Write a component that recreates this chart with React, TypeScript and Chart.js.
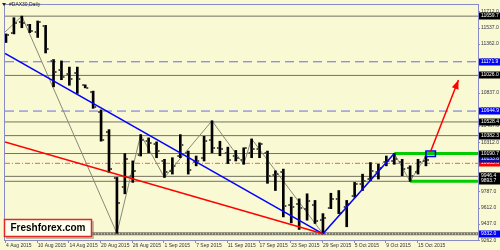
import React, { useEffect, useRef } from "react";
import { Chart, registerables } from "chart.js";

Chart.register(...registerables);

const symbolTitle = "#DAX30,Daily";
const watermark = "Freshforex.com";

// Daily OHLC, 4 Aug 2015 .. 16 Oct 2015 (index = trading day)
const opens = [11420, 11477, 11600, 11560, 11490, 11555, 11180, 11080, 11040, 11050, 10920, 10850, 10640, 10420, 9930, 9830, 9950, 10180, 10320, 10290, 10110, 10000, 10160, 10200, 10100, 10140, 10340, 10250, 10200, 10160, 10120, 10200, 10240, 10200, 9960, 9990, 9640, 9650, 9600, 9640, 9480, 9605, 9700, 9620, 9740, 9860, 9920, 9990, 10100, 10110, 10100, 10040, 9990, 10110];
const highs = [11470, 11643, 11660, 11572, 11608, 11561, 11196, 11181, 11115, 11115, 10925, 10858, 10657, 10446, 9935, 10190, 10112, 10393, 10358, 10315, 10129, 10146, 10393, 10217, 10164, 10375, 10541, 10322, 10259, 10224, 10252, 10347, 10305, 10217, 10006, 10024, 9724, 9706, 9760, 9689, 9548, 9766, 9795, 9689, 9882, 9970, 10094, 10076, 10164, 10190.7, 10129, 10059, 10129, 10164];
const lows = [11378, 11470, 11536, 11484, 11432, 11266, 10904, 10980, 10921, 10833, 10893, 10674, 10323, 9988, 9338, 9760, 9882, 10164, 10199, 10146, 9935, 9971, 10146, 9971, 10059, 10111, 10199, 10167, 10083, 10111, 10076, 10146, 10146, 9872, 9795, 9513, 9449, 9379, 9478, 9443, 9332, 9601, 9548, 9408, 9724, 9795, 9900, 9918, 10059, 10076, 9953, 9893.7, 9971, 10059];
const closes = [11460, 11590, 11590, 11500, 11600, 11308, 11060, 11010, 10985, 10985, 10895, 10692, 10335, 10020, 9657, 10130, 10006, 10340, 10300, 10220, 9990, 10060, 10280, 10010, 10110, 10320, 10250, 10240, 10125, 10140, 10245, 10240, 10290, 9953, 9974, 9626, 9620, 9610, 9680, 9466, 9500, 9700, 9555, 9650, 9860, 9900, 10006, 10040, 10110, 10130, 10030, 9950, 10100, 10120];

const xTickIndex = [0, 4, 8, 12, 16, 20, 24, 28, 32, 36, 40, 44, 48, 52];
const xTickLabels = ["4 Aug 2015", "10 Aug 2015", "14 Aug 2015", "20 Aug 2015", "26 Aug 2015", "1 Sep 2015", "7 Sep 2015", "11 Sep 2015", "17 Sep 2015", "23 Sep 2015", "29 Sep 2015", "5 Oct 2015", "9 Oct 2015", "15 Oct 2015"];
const yTickValues = [11712, 11537, 11362, 11187, 11012, 10837, 10662, 10487, 10312, 10137, 9962, 9787, 9612, 9437, 9262];

const xMin = -0.125;
const xMax = 59.57;
const yMin = 9266;
const yMax = 11779;

const zigzagX = [-0.125, 2, 14, 17, 20, 26, 30, 31, 40, 49, 51, 53];
const zigzagY = [11490, 11660, 9338, 10393, 9935, 10541, 10076, 10347, 9332, 10190.7, 9893.7, 10164];
const downTrendX = [-0.125, 40];
const downTrendY = [11262, 9332];
const redTrendX = [-0.125, 40];
const redTrendY = [10314, 9332];
const upTrendX = [40, 49];
const upTrendY = [9332, 10190.7];

const grayLevels = [11659.7, 11026.0, 10528.4, 10382.3, 10190.7, 9946.4, 9893.7];
const thickLevel = 9332.0;
const blueLevels = [11171.9, 10644.9];
const redLevels = [10085.8];
const greenStartX = [49, 51];
const greenValues = [10190.7, 9893.7];
const boxX = [53.0, 54.2];
const boxY = [10160, 10219];
const arrowX = [53.6, 57.1];
const arrowY = [10216, 10976];

const blackTags = [11659.7, 11026.0, 10528.4, 10382.3, 10190.7, 9946.4, 9893.7];
const blueTags = [11171.9, 10644.9, 9332.0];
const navyTags = [10133.8];
const redTags = [10085.8];

const FONT = '"Liberation Sans", Arial, sans-serif';

function tickImage(side: "open" | "close") {
  const c = document.createElement("canvas");
  c.width = 10;
  c.height = 2;
  const g = c.getContext("2d")!;
  g.fillStyle = "#505050";
  if (side === "open") g.fillRect(2, 0, 2, 2);
  else g.fillRect(6, 0, 2, 2);
  return c;
}

function seg(xs: number[], ys: number[], color: string, width: number, dash: number[], order: number) {
  return {
    type: "line",
    data: xs.map((x, i) => ({ x, y: ys[i] })),
    borderColor: color,
    borderWidth: width,
    borderDash: dash,
    pointRadius: 0,
    fill: false,
    tension: 0,
    order,
  };
}

const mtPlugin = {
  id: "mt4",
  beforeDraw(chart: any) {
    const ctx = chart.ctx;
    ctx.save();
    ctx.fillStyle = "#F9F9D3";
    ctx.fillRect(0, 0, chart.width, chart.height);
    ctx.restore();
  },
  afterDatasetsDraw(chart: any) {
    const ctx = chart.ctx;
    const xs = chart.scales.x;
    const ys = chart.scales.y;
    const x1 = xs.getPixelForValue(arrowX[0]);
    const y1 = ys.getPixelForValue(arrowY[0]);
    const x2 = xs.getPixelForValue(arrowX[1]);
    const y2 = ys.getPixelForValue(arrowY[1]);
    const a = Math.atan2(y2 - y1, x2 - x1);
    const L = 9, W = 3.5;
    ctx.save();
    ctx.fillStyle = "#FF0000";
    ctx.beginPath();
    ctx.moveTo(x2, y2);
    ctx.lineTo(x2 - L * Math.cos(a) + W * Math.sin(a), y2 - L * Math.sin(a) - W * Math.cos(a));
    ctx.lineTo(x2 - L * Math.cos(a) - W * Math.sin(a), y2 - L * Math.sin(a) + W * Math.cos(a));
    ctx.closePath();
    ctx.fill();
    ctx.restore();
  },
  afterDraw(chart: any) {
    const ctx = chart.ctx;
    const area = chart.chartArea;
    const xs = chart.scales.x;
    const ys = chart.scales.y;
    ctx.save();
    // frame
    ctx.strokeStyle = "#8a8ac8";
    ctx.lineWidth = 1;
    ctx.strokeRect(area.left - 0.5, area.top - 0.5, area.right - area.left + 1, area.bottom - area.top + 1);
    // y ticks + labels
    ctx.font = `5px ${FONT}`;
    ctx.textBaseline = "middle";
    ctx.textAlign = "left";
    yTickValues.forEach((v) => {
      const y = ys.getPixelForValue(v);
      ctx.strokeStyle = "#8a8ac8";
      ctx.beginPath();
      ctx.moveTo(area.right, Math.round(y) + 0.5);
      ctx.lineTo(area.right + 2, Math.round(y) + 0.5);
      ctx.stroke();
      ctx.fillStyle = "#333344";
      ctx.fillText(v.toFixed(1), area.right + 3, y);
    });
    // x ticks + labels
    xTickIndex.forEach((idx, k) => {
      const x = xs.getPixelForValue(idx);
      ctx.strokeStyle = "#8a8ac8";
      ctx.beginPath();
      ctx.moveTo(Math.round(x) - 0.5, area.bottom);
      ctx.lineTo(Math.round(x) - 0.5, area.bottom + 3);
      ctx.stroke();
      ctx.fillStyle = "#333344";
      ctx.fillText(xTickLabels[k], x, area.bottom + 5.5);
    });
    // price tags
    const tag = (v: number, bg: string) => {
      const y = ys.getPixelForValue(v);
      ctx.fillStyle = bg;
      ctx.fillRect(area.right + 1, Math.round(y) - 3.5, 22, 7);
      ctx.fillStyle = "#FFFFFF";
      ctx.fillText(v.toFixed(1), area.right + 3, Math.round(y));
    };
    redTags.forEach((v) => tag(v, "#FF0000"));
    navyTags.forEach((v) => tag(v, "#1010A0"));
    blueTags.forEach((v) => tag(v, "#0000FF"));
    blackTags.forEach((v) => tag(v, "#000000"));
    // title
    ctx.fillStyle = "#222222";
    ctx.beginPath();
    ctx.moveTo(2, 3);
    ctx.lineTo(6, 3);
    ctx.lineTo(4, 6);
    ctx.closePath();
    ctx.fill();
    ctx.font = `5px ${FONT}`;
    ctx.fillText(symbolTitle, 9, 5);
    // watermark
    ctx.fillStyle = "rgba(120,120,100,0.45)";
    ctx.fillRect(6, 221, 88, 18);
    ctx.fillStyle = "#FFFFF0";
    ctx.fillRect(4, 219, 88, 18);
    ctx.strokeStyle = "#E02828";
    ctx.lineWidth = 1.5;
    ctx.strokeRect(4.5, 219.5, 87, 17);
    ctx.fillStyle = "#000000";
    ctx.font = `bold 10px ${FONT}`;
    ctx.textAlign = "center";
    ctx.fillText(watermark, 48, 228.5);
    ctx.restore();
  },
};

export default function App() {
  const ref = useRef<HTMLCanvasElement | null>(null);
  useEffect(() => {
    if (!ref.current) return;
    const openImg = tickImage("open");
    const closeImg = tickImage("close");
    const datasets: any[] = [];
    grayLevels.forEach((v) => datasets.push(seg([xMin, xMax], [v, v], "#727262", 1, [], 30)));
    datasets.push(seg([xMin, xMax], [thickLevel, thickLevel], "#7a7a6a", 3, [], 30));
    datasets.push(seg([xMin, xMax], [thickLevel, thickLevel], "#e4e4f4", 1, [1, 2], 29));
    blueLevels.forEach((v) => datasets.push(seg([xMin, xMax], [v, v], "#6a6ae8", 1, [9, 5], 30)));
    redLevels.forEach((v) => datasets.push(seg([xMin, xMax], [v, v], "#ff5a5a", 1, [5, 2, 1, 2], 30)));
    greenStartX.forEach((sx, k) => datasets.push(seg([sx, xMax], [greenValues[k], greenValues[k]], "#00CC00", 3, [], 25)));
    datasets.push(seg(zigzagX, zigzagY, "#8a8a78", 1, [], 20));
    datasets.push({
      type: "bar",
      data: opens.map((_, i) => ({ x: i, y: [lows[i], highs[i]] })),
      backgroundColor: "#000000",
      borderWidth: 0,
      barThickness: 2,
      order: 10,
    });
    datasets.push({
      type: "scatter",
      data: opens.map((o, i) => ({ x: i, y: o })),
      pointStyle: openImg,
      pointRadius: 3,
      order: 9,
    });
    datasets.push({
      type: "scatter",
      data: closes.map((c, i) => ({ x: i, y: c })),
      pointStyle: closeImg,
      pointRadius: 3,
      order: 9,
    });
    datasets.push(seg(redTrendX, redTrendY, "#FF0000", 1.5, [], 5));
    datasets.push(seg(downTrendX, downTrendY, "#0000FF", 1.5, [], 5));
    datasets.push(seg(upTrendX, upTrendY, "#0000FF", 1.5, [], 5));
    datasets.push(
      seg([boxX[0], boxX[1], boxX[1], boxX[0], boxX[0]], [boxY[0], boxY[0], boxY[1], boxY[1], boxY[0]], "#0000FF", 1.5, [], 4)
    );
    datasets.push(seg(arrowX, arrowY, "#FF0000", 1.5, [], 3));

    const chart = new Chart(ref.current, {
      type: "bar",
      data: { datasets },
      options: {
        responsive: false,
        animation: false,
        events: [],
        layout: { padding: { left: 1, top: 2, right: 22, bottom: 10 } },
        plugins: { legend: { display: false }, tooltip: { enabled: false } },
        scales: {
          x: { type: "linear", min: xMin, max: xMax, display: false, offset: false },
          y: { type: "linear", min: yMin, max: yMax, display: false, beginAtZero: false },
        },
      },
      plugins: [mtPlugin],
    } as any);
    return () => chart.destroy();
  }, []);
  return (
    <div style={{ position: "fixed", left: 0, top: 0, width: 500, height: 250 }}>
      <canvas ref={ref} width={500} height={250} style={{ display: "block" }} />
    </div>
  );
}
